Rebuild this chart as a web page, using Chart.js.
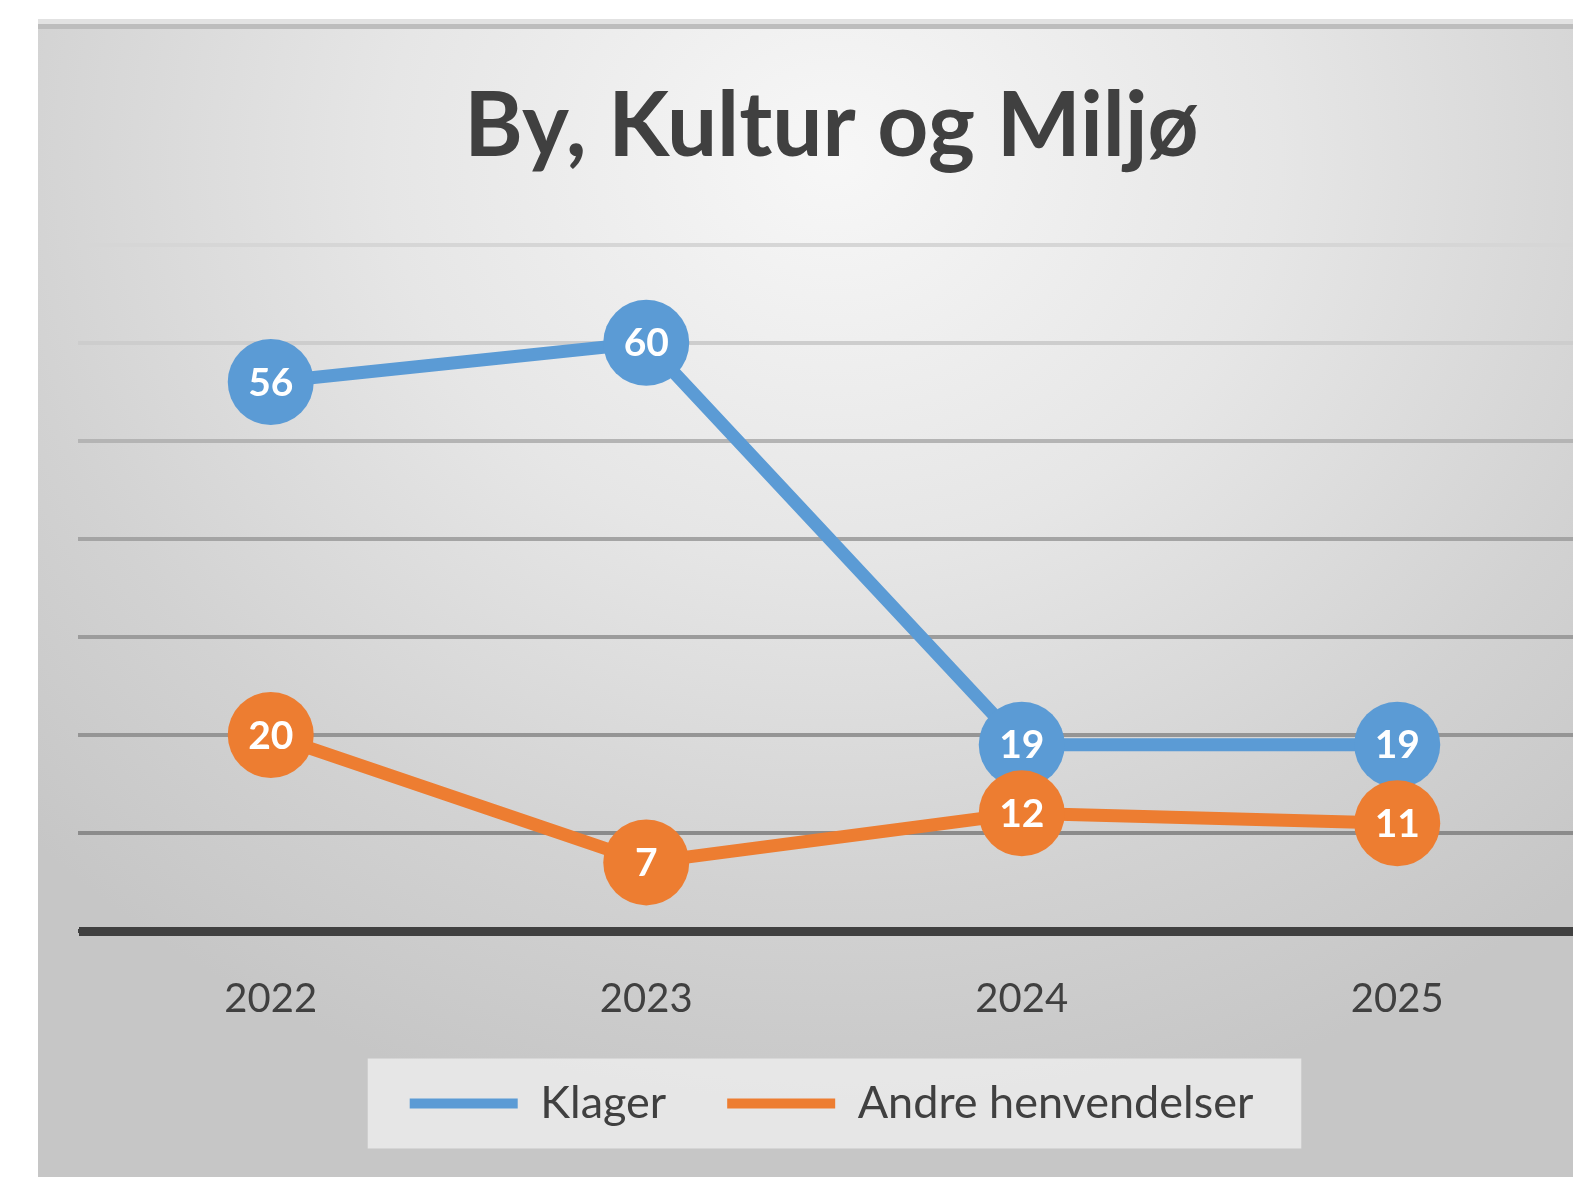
<!DOCTYPE html>
<html lang="no">
<head>
  <meta charset="UTF-8" />
  <title>By, Kultur og Miljø</title>
  <script src="https://cdn.jsdelivr.net/npm/chart.js"></script>
  <style>
    html, body { margin: 0; padding: 0; background: #fff; overflow: hidden; width: 1573px; height: 1177px; }
    .chart-box {
      position: absolute; left: 38px; top: 19px; width: 1592px; height: 1158px;
      background: radial-gradient(ellipse 70% 85% at 50% 12%, #f7f7f7 0%, #e6e6e6 40%, #d2d2d2 75%, #c6c6c6 100%);
      box-shadow: inset 0 5px 0 #e2e2e2, inset 0 10px 0 #bdbdbd;
    }
  </style>
</head>
<body>
  <div class="chart-box">
    <canvas id="lineChart" width="1592" height="1158"></canvas>
  </div>

  <script>
// === Data ===
const years = ["2022", "2023", "2024", "2025"];
const klager = [56, 60, 19, 19];
const andre = [20, 7, 12, 11];
const yTicks = [0, 10, 20, 30, 40, 50, 60, 70];

const blue = "#5B9BD5";
const orange = "#ED7D31";
const textGray = "#404040";

// gridlines get darker towards the bottom, like the excel style
const gridColors = {70: "#d6d6d6", 60: "#cdcdcd", 50: "#b4b4b4", 40: "#a4a4a4", 30: "#9c9c9c", 20: "#959595", 10: "#8b8b8b", 0: "#404040"};

// === white value labels inside the markers ===
const markerLabels = {
  id: "markerLabels",
  afterDatasetDraw(chart, args) {
    const ctx = chart.ctx;
    const ds = chart.data.datasets[args.index];
    ctx.save();
    ctx.fillStyle = "#ffffff";
    ctx.font = "bold 39px Lato";
    ctx.textAlign = "center";
    ctx.textBaseline = "middle";
    args.meta.data.forEach((pt, i) => {
      ctx.fillText(String(ds.data[i]), pt.x, pt.y + 1);
    });
    ctx.restore();
  }
};

// === light box behind the legend ===
const legendBox = {
  id: "legendBox",
  beforeDraw(chart) {
    const boxes = chart.legend.legendHitBoxes;
    if (!boxes.length) return;
    const left = Math.min(...boxes.map(b => b.left)) - 42;
    const right = Math.max(...boxes.map(b => b.left + b.width)) + 48;
    const mid = boxes[0].top + boxes[0].height / 2;
    const ctx = chart.ctx;
    ctx.save();
    ctx.fillStyle = "rgba(240, 240, 240, 0.75)";
    ctx.fillRect(left, mid - 45, right - left, 90);
    ctx.restore();
  }
};

const ctx = document.getElementById("lineChart").getContext("2d");
new Chart(ctx, {
  type: "line",
  data: {
    labels: years,
    datasets: [
      {
        label: "Klager",
        data: klager,
        order: 1,
        borderColor: blue,
        backgroundColor: blue,
        borderWidth: 13,
        pointRadius: 43,
        pointHoverRadius: 43,
        pointBorderWidth: 0,
        pointBackgroundColor: blue,
        tension: 0
      },
      {
        label: "Andre henvendelser",
        data: andre,
        order: 0,
        borderColor: orange,
        backgroundColor: orange,
        borderWidth: 13,
        pointRadius: 43,
        pointHoverRadius: 43,
        pointBorderWidth: 0,
        pointBackgroundColor: orange,
        tension: 0
      }
    ]
  },
  options: {
    responsive: false,
    animation: false,
    layout: { padding: { left: 40, right: 45, top: 0, bottom: 41 } },
    plugins: {
      tooltip: { enabled: false },
      title: {
        display: true,
        text: "By, Kultur og Miljø",
        color: textGray,
        font: { family: "Lato", size: 89, weight: "bold", lineHeight: 1.2 },
        padding: { top: 55, bottom: 64 }
      },
      legend: {
        position: "bottom",
        labels: {
          color: textGray,
          font: { family: "Lato", size: 45 },
          boxWidth: 108,
          boxHeight: 10,
          padding: 61,
          sort: (a, b) => a.datasetIndex - b.datasetIndex,
          generateLabels: chart =>
            Chart.defaults.plugins.legend.labels.generateLabels(chart).map(l => ({ ...l, lineWidth: 0 }))
        }
      }
    },
    scales: {
      x: {
        offset: true,
        grid: { display: false, drawTicks: false },
        border: { display: true, color: textGray, width: 9 },
        ticks: {
          color: textGray,
          font: { family: "Lato", size: 40 },
          padding: 44
        },
        afterFit: axis => { axis.height -= 47; }
      },
      y: {
        min: yTicks[0],
        max: yTicks[yTicks.length - 1],
        afterBuildTicks: axis => { axis.ticks = yTicks.map(v => ({ value: v })); },
        ticks: { display: false },
        border: { display: false },
        grid: {
          drawTicks: true,
          tickLength: 5,
          lineWidth: 4,
          color: c => gridColors[c.tick.value] || "#999999"
        }
      }
    }
  },
  plugins: [legendBox, markerLabels]
});
  </script>
</body>
</html>
